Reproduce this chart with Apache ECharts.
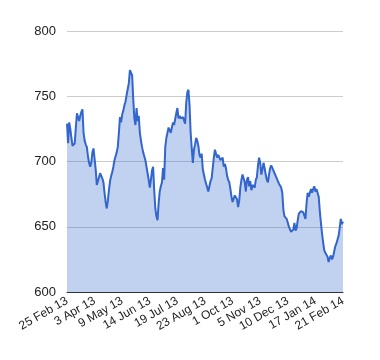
<!DOCTYPE html>
<html><head><meta charset="utf-8">
<script src="https://cdn.jsdelivr.net/npm/echarts@6/dist/echarts.min.js"></script>
<style>html,body{margin:0;padding:0;background:#fff}#c{width:380px;height:360px}</style>
</head><body><div id="c"></div>
<script>
const tickLabels = ['25 Feb 13','3 Apr 13','9 May 13','14 Jun 13','19 Jul 13','23 Aug 13','1 Oct 13','5 Nov 13','10 Dec 13','17 Jan 14','21 Feb 14'];
const values = [
729,714,730,725,718,712,711,714,726,737,734,731,735,738,740,722,716,713,711,704,699,696,699,707,710,
702,694,682,681,688,691,690,687,684,676,669,664,670,678,685,689,692,696,701,704,707,711,722,734,730,
736,739,743,746,751,752,760,770,768,766,748,733,728,741,731,735,722,716,711,707,704,701,696,691,686,
680,686,693,696,678,664,658,655,668,677,681,684,695,686,711,718,722,726,724,722,726,730,728,729,737,
741,733,735,733,732,734,735,729,745,753,755,743,722,710,699,709,713,718,716,712,705,703,706,694,690,
686,683,680,677,681,685,687,695,703,709,706,703,705,706,701,702,703,696,698,695,689,686,684,679,673,
669,668,674,675,671,665,670,680,686,690,689,684,677,686,688,681,685,678,682,683,680,686,688,697,703,
699,690,694,699,695,690,686,684,690,695,697,696,693,691,689,687,685,683,682,680,676,663,658,659,656,
653,650,648,646,646,648,653,647,649,655,660,661,662,663,661,660,656,668,676,673,676,679,676,679,681,
677,679,678,673,662,653,645,638,632,630,629,627,623,626,628,625,627,631,635,637,638,643,649,656,652,
654
];
const yTicks = [600, 650, 700, 750, 800];
const categories = values.map((v, i) => String(i));
const chart = echarts.init(document.getElementById('c'), null, {renderer: 'canvas'});
chart.setOption({
  animation: false,
  grid: {left: 67, right: 37, top: 31, bottom: 68},
  xAxis: {
    type: 'category', data: categories, boundaryGap: false,
    axisLine: {lineStyle: {color: '#333', width: 1}},
    axisTick: {show: false},
    axisLabel: {
      interval: 24, rotate: 30, fontFamily: 'Liberation Sans, Arial', fontSize: 12, color: '#222', margin: 8,
      formatter: (v, idx) => (idx % 25 === 0 ? tickLabels[idx / 25] : '')
    },
    splitLine: {show: false}
  },
  yAxis: {
    type: 'value', min: yTicks[0], max: yTicks[yTicks.length - 1], interval: 50,
    axisLine: {show: false}, axisTick: {show: false},
    axisLabel: {fontFamily: 'Liberation Sans, Arial', fontSize: 13, color: '#222', margin: 11},
    splitLine: {lineStyle: {color: '#cccccc', width: 1}}
  },
  series: [{
    type: 'line', data: values, showSymbol: false, symbol: 'none',
    lineStyle: {color: '#3366cc', width: 2},
    areaStyle: {color: '#3366cc', opacity: 0.3}
  }]
});
</script></body></html>
